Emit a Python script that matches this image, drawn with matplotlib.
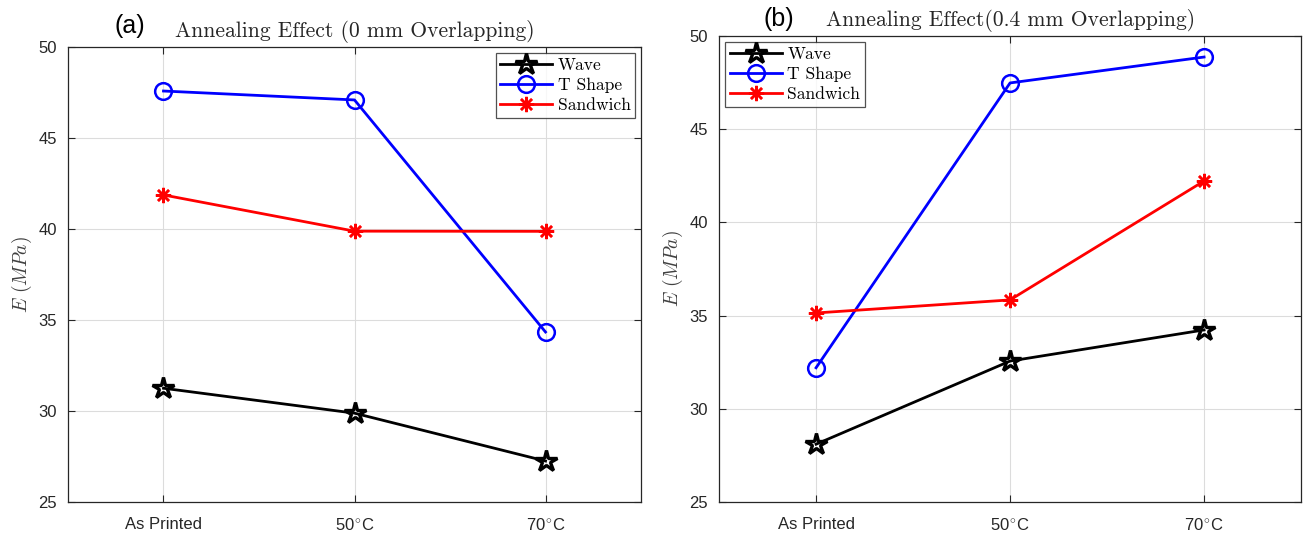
import matplotlib
matplotlib.use("Agg")
import matplotlib.pyplot as plt

plt.rcParams['mathtext.fontset'] = 'cm'

conditions = ["As Printed", "50$^{\\circ}$C", "70$^{\\circ}$C"]
series_names = ["Wave", "T Shape", "Sandwich"]

# Young's modulus, 0 mm overlapping
wave_0 = [31.25, 29.88, 27.25]
tshape_0 = [47.58, 47.09, 34.34]
sandwich_0 = [41.87, 39.88, 39.87]

# Young's modulus, 0.4 mm overlapping
wave_04 = [28.1, 32.56, 34.23]
tshape_04 = [32.2, 47.48, 48.87]
sandwich_04 = [35.14, 35.84, 42.22]

styles = [
    dict(color='black', marker='*', markersize=16, mfc='none', mec='black', mew=2.4),
    dict(color='#0000ff', marker='o', markersize=12, mfc='none', mec='#0000ff', mew=1.8),
    dict(color='#ff0000', marker=(8, 2, 0), markersize=11, mec='#ff0000', mew=1.8),
]

fig = plt.figure(figsize=(13.05, 5.4), dpi=100)
ax_a = fig.add_axes([0.0521, 0.0704, 0.4391, 0.8426])
ax_b = fig.add_axes([0.551, 0.0704, 0.446, 0.863])

panels = [
    (ax_a, [wave_0, tshape_0, sandwich_0], "Annealing Effect (0 mm Overlapping)", 'upper right', "(a)", 0.0995, 0.952),
    (ax_b, [wave_04, tshape_04, sandwich_04], "Annealing Effect(0.4 mm Overlapping)", 'upper left', "(b)", 0.597, 0.965),
]

x = [1, 2, 3]
for ax, data, title, loc, tag, tx, ty in panels:
    for name, vals, st in zip(series_names, data, styles):
        ax.plot(x, vals, lw=2, label=name, **st)
    ax.set_xlim(0.5, 3.5)
    ax.set_ylim(25, 50)
    ax.set_xticks(x)
    ax.set_xticklabels(conditions)
    ax.set_yticks([25, 30, 35, 40, 45, 50])
    ax.grid(True, color='#dcdcdc', lw=0.8)
    ax.set_axisbelow(True)
    for sp in ax.spines.values():
        sp.set_color('#262626')
        sp.set_linewidth(0.9)
    ax.tick_params(axis='both', direction='in', length=5, color='#262626',
                   labelsize=12, labelcolor='#262626', top=True, right=True,
                   pad=8)
    ax.tick_params(axis='x', pad=11)
    for lab in ax.get_xticklabels() + ax.get_yticklabels():
        lab.set_fontfamily('Liberation Sans')
    ax.set_ylabel("$E\\ (MPa)$", fontsize=14, color='#404040', labelpad=3)
    ax.set_title(title, fontfamily='cmr10', fontsize=15.5, color='#262626', pad=7)
    leg = ax.legend(loc=loc, prop={'family': 'cmr10', 'size': 12.6}, frameon=True,
                    fancybox=False, edgecolor='#262626', borderpad=0.25,
                    handlelength=3.0, handletextpad=0.3, labelspacing=0.28,
                    borderaxespad=0.35)
    leg.get_frame().set_linewidth(0.9)
    fig.text(tx, ty, tag, fontsize=18, fontfamily='Liberation Sans', color='black',
             ha='center', va='center')

fig.savefig("out.png", dpi=100)
